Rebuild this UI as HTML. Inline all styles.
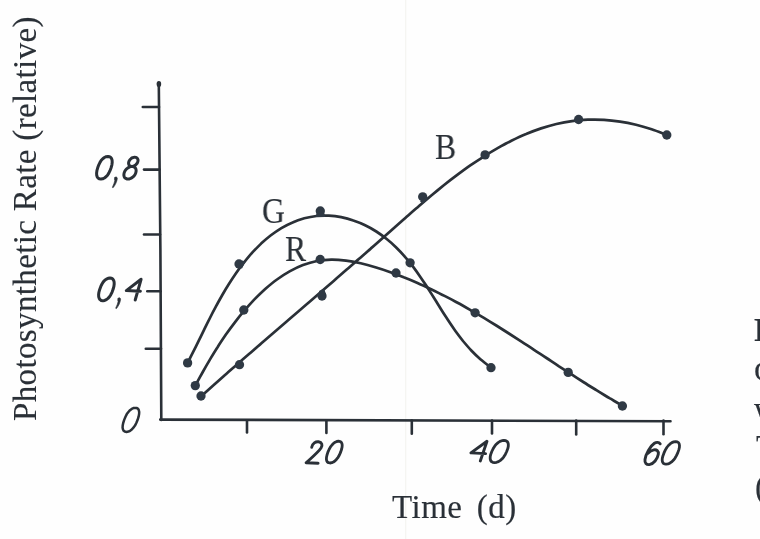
<!DOCTYPE html>
<html><head><meta charset="utf-8">
<style>
html,body{margin:0;padding:0;background:#fefefe;}
body{width:760px;height:539px;overflow:hidden;position:relative;font-family:"Liberation Serif",serif;color:#2a3037;-webkit-text-stroke:0.15px #2a3037;}
svg{position:absolute;left:0;top:0;filter:blur(0.3px);}
.t{position:absolute;white-space:nowrap;line-height:1;will-change:transform;}
#yl{left:0;top:0;font-size:33px;transform-origin:0 0;transform:translate(9px,421px) rotate(-90deg);letter-spacing:0.36px;}
#xl{left:392px;top:490.5px;font-size:33px;word-spacing:5.5px;letter-spacing:0.5px;}
.lab{font-size:36px;transform-origin:0 0;transform:scaleX(0.88);}
.frag{will-change:transform;position:absolute;left:754px;font-size:33px;white-space:nowrap;line-height:1;}
</style></head><body>
<svg width="760" height="539" viewBox="0 0 760 539">
<line x1="405.7" y1="0" x2="405.7" y2="539" stroke="#f4f4f1" stroke-width="1.2"/>
<g fill="none" stroke="#2a3037" stroke-width="2.6" stroke-linecap="round" stroke-linejoin="round">
<path d="M158.8,83.5 L160.4,250 L161.3,420"/>
<path d="M160.2,419.6 L670.5,421.2"/>
<path d="M142.8,107.0 L159.0,107.0"/>
<path d="M144.0,169.6 L159.5,169.6"/>
<path d="M144.0,234.5 L160.0,234.5"/>
<path d="M147.3,291.3 L160.5,291.3"/>
<path d="M145.8,348.8 L161.0,348.8"/>
<path d="M247.0,420.5 L247.0,432.5"/>
<path d="M326.4,420.5 L326.4,433.0"/>
<path d="M411.8,420.5 L411.8,433.8"/>
<path d="M492.0,420.5 L492.0,433.5"/>
<path d="M576.2,420.5 L576.2,434.5"/>
<path d="M663.5,420.5 L663.5,434.2"/>
<path d="M187.60,362.89 C188.5,361.0 191.4,355.5 193.3,351.7 C195.2,347.9 197.0,344.2 198.9,340.4 C200.8,336.6 202.6,332.8 204.5,328.9 C206.4,325.1 208.3,321.3 210.2,317.5 C212.1,313.7 214.1,309.9 216.1,306.2 C218.1,302.4 220.2,298.7 222.3,295.0 C224.4,291.3 226.6,287.6 228.9,284.0 C231.2,280.3 233.5,276.8 236.0,273.2 C238.4,269.7 241.0,266.2 243.7,262.9 C246.4,259.5 249.1,256.1 252.0,252.9 C255.0,249.7 258.0,246.6 261.1,243.6 C264.3,240.7 267.5,237.9 270.9,235.3 C274.3,232.7 277.8,230.3 281.4,228.1 C285.0,226.0 288.7,224.0 292.6,222.4 C296.4,220.7 300.3,219.4 304.3,218.3 C308.3,217.3 312.4,216.5 316.5,216.0 C320.6,215.6 324.7,215.5 328.9,215.7 C333.0,215.9 337.1,216.4 341.2,217.2 C345.3,218.0 349.4,219.1 353.3,220.5 C357.3,221.8 361.3,223.4 365.1,225.3 C368.9,227.1 372.7,229.2 376.3,231.5 C379.9,233.8 383.3,236.3 386.7,239.0 C390.0,241.6 393.2,244.5 396.2,247.5 C399.3,250.5 402.2,253.6 405.0,256.9 C407.9,260.1 410.6,263.5 413.2,266.9 C415.8,270.4 418.3,273.9 420.7,277.4 C423.2,281.0 425.5,284.6 427.9,288.2 C430.2,291.8 432.4,295.4 434.7,299.0 C437.0,302.6 439.2,306.3 441.5,309.9 C443.7,313.5 446.0,317.0 448.3,320.6 C450.6,324.1 453.0,327.6 455.4,331.0 C457.9,334.4 460.4,337.7 463.0,341.0 C465.7,344.2 468.4,347.4 471.3,350.5 C474.2,353.5 477.2,356.5 480.4,359.3 C483.7,362.1 488.9,366.0 490.6,367.3" stroke-width="2.7"/>
<path d="M195.30,385.60 C196.5,383.4 200.1,376.8 202.5,372.5 C204.9,368.1 207.4,363.8 209.9,359.6 C212.5,355.3 215.0,351.1 217.7,347.0 C220.3,342.8 223.1,338.7 225.9,334.6 C228.7,330.6 231.6,326.6 234.7,322.6 C237.7,318.6 240.8,314.7 244.1,310.9 C247.3,307.1 250.7,303.3 254.2,299.6 C257.8,296.0 261.4,292.4 265.2,289.0 C269.0,285.7 272.9,282.4 277.0,279.5 C281.1,276.5 285.3,273.8 289.6,271.4 C294.0,269.0 298.5,266.8 303.0,265.1 C307.6,263.4 312.2,262.0 317.0,261.0 C321.7,260.1 326.5,259.7 331.3,259.6 C336.2,259.5 341.1,260.0 346.0,260.6 C350.9,261.2 355.8,262.2 360.7,263.3 C365.6,264.4 370.5,265.8 375.3,267.3 C380.1,268.7 384.9,270.3 389.7,272.0 C394.4,273.7 399.1,275.4 403.7,277.3 C408.4,279.1 413.0,281.0 417.5,283.0 C422.1,285.0 426.6,287.1 431.1,289.2 C435.6,291.4 440.1,293.6 444.5,295.9 C448.9,298.1 453.3,300.5 457.6,302.8 C462.0,305.2 466.3,307.7 470.6,310.2 C475.0,312.6 479.2,315.2 483.5,317.7 C487.8,320.3 492.0,322.9 496.3,325.5 C500.5,328.2 504.7,330.8 508.9,333.5 C513.1,336.2 517.3,338.9 521.5,341.6 C525.7,344.3 529.8,347.1 534.0,349.8 C538.2,352.5 542.3,355.3 546.5,358.0 C550.7,360.8 554.9,363.5 559.0,366.3 C563.2,369.0 567.4,371.7 571.6,374.4 C575.7,377.2 579.9,379.9 584.1,382.5 C588.3,385.2 592.6,387.8 596.8,390.4 C601.0,393.1 605.3,395.6 609.5,398.2 C613.8,400.7 620.3,404.4 622.4,405.7" stroke-width="2.7"/>
<path d="M200.90,396.50 C202.9,394.7 208.9,389.3 212.9,385.7 C217.0,382.2 221.0,378.6 225.0,375.0 C229.1,371.5 233.1,367.9 237.1,364.4 C241.2,360.9 245.2,357.3 249.3,353.8 C253.3,350.3 257.4,346.8 261.4,343.2 C265.5,339.7 269.5,336.2 273.6,332.7 C277.7,329.2 281.7,325.7 285.8,322.2 C289.8,318.7 293.9,315.2 298.0,311.7 C302.0,308.2 306.1,304.7 310.2,301.2 C314.2,297.7 318.3,294.2 322.3,290.7 C326.4,287.2 330.5,283.7 334.5,280.2 C338.6,276.7 342.6,273.2 346.7,269.6 C350.7,266.1 354.8,262.6 358.8,259.0 C362.8,255.5 366.9,252.0 370.9,248.4 C375.0,244.9 379.0,241.3 383.0,237.7 C387.0,234.2 391.1,230.6 395.1,227.0 C399.1,223.4 403.1,219.9 407.2,216.3 C411.2,212.7 415.3,209.2 419.3,205.7 C423.4,202.2 427.5,198.7 431.6,195.2 C435.8,191.8 439.9,188.4 444.1,185.0 C448.3,181.7 452.6,178.4 456.9,175.2 C461.2,172.0 465.5,168.8 469.9,165.7 C474.3,162.7 478.8,159.7 483.4,156.8 C487.9,153.9 492.5,151.1 497.2,148.4 C501.9,145.8 506.6,143.2 511.4,140.8 C516.3,138.4 521.1,136.1 526.1,134.1 C531.0,132.0 536.0,130.1 541.1,128.4 C546.1,126.8 551.2,125.3 556.4,124.0 C561.5,122.8 566.8,121.8 572.0,121.1 C577.3,120.3 582.6,119.9 587.9,119.7 C593.2,119.5 598.6,119.5 604.0,119.9 C609.3,120.2 614.7,120.8 620.0,121.6 C625.4,122.4 630.7,123.5 636.0,124.8 C641.2,126.0 646.5,127.6 651.6,129.3 C656.8,131.0 664.3,134.1 666.8,135.0" stroke-width="2.7"/>
<path d="M111.10,167.75 L110.0,170.7 L108.8,173.1 L107.5,175.2 L106.0,176.8 L104.4,178.0 L102.7,178.8 L100.9,179.1 L99.2,178.8 L98.0,178.0 L97.2,176.8 L96.7,175.2 L96.6,173.1 L96.9,170.7 L97.7,167.8 L98.8,164.8 L100.0,162.4 L101.3,160.3 L102.8,158.7 L104.4,157.5 L106.1,156.7 L107.9,156.4 L109.6,156.7 L110.8,157.5 L111.6,158.7 L112.1,160.3 L112.2,162.4 L111.9,164.8 Z" stroke-width="3.00"/>
<path d="M113.10,289.35 L112.0,292.3 L110.8,294.7 L109.5,296.8 L108.0,298.4 L106.4,299.6 L104.7,300.4 L102.9,300.7 L101.2,300.4 L100.0,299.6 L99.2,298.4 L98.7,296.8 L98.6,294.7 L98.9,292.3 L99.7,289.4 L100.8,286.4 L102.0,284.0 L103.3,281.9 L104.8,280.3 L106.4,279.1 L108.1,278.3 L109.9,278.1 L111.6,278.3 L112.8,279.1 L113.6,280.3 L114.1,281.9 L114.2,284.0 L113.9,286.4 Z" stroke-width="3.00"/>
<path d="M137.64,419.85 L136.3,423.0 L135.0,425.6 L133.4,427.7 L131.8,429.5 L130.1,430.8 L128.4,431.6 L126.5,431.9 L124.9,431.6 L123.7,430.8 L123.0,429.5 L122.6,427.7 L122.7,425.6 L123.2,423.0 L124.2,419.9 L125.5,416.7 L126.8,414.1 L128.4,412.0 L130.0,410.2 L131.7,408.9 L133.4,408.1 L135.3,407.9 L136.9,408.1 L138.1,408.9 L138.8,410.2 L139.2,412.0 L139.1,414.1 L138.6,416.7 Z" stroke-width="2.50"/>
<path d="M340.65,452.10 L339.4,455.0 L338.1,457.3 L336.6,459.2 L335.1,460.8 L333.4,462.0 L331.8,462.7 L330.0,463.0 L328.5,462.7 L327.4,462.0 L326.7,460.8 L326.4,459.2 L326.5,457.3 L327.0,455.0 L327.9,452.1 L329.2,449.2 L330.5,446.9 L332.0,445.0 L333.5,443.4 L335.2,442.2 L336.8,441.5 L338.6,441.2 L340.1,441.5 L341.2,442.2 L341.9,443.4 L342.2,445.0 L342.1,446.9 L341.6,449.2 Z" stroke-width="2.80"/>
<path d="M506.70,451.50 L505.3,454.4 L503.8,456.8 L502.2,458.8 L500.4,460.4 L498.5,461.6 L496.6,462.3 L494.6,462.6 L492.7,462.3 L491.4,461.6 L490.6,460.4 L490.2,458.8 L490.2,456.8 L490.7,454.4 L491.8,451.5 L493.2,448.6 L494.7,446.2 L496.3,444.2 L498.1,442.6 L500.0,441.4 L501.9,440.7 L503.9,440.4 L505.8,440.7 L507.1,441.4 L507.9,442.6 L508.3,444.2 L508.3,446.2 L507.8,448.6 Z" stroke-width="2.80"/>
<path d="M677.75,452.90 L676.3,455.9 L674.9,458.3 L673.3,460.3 L671.6,461.9 L669.8,463.2 L668.0,463.9 L666.1,464.1 L664.4,463.9 L663.2,463.2 L662.5,461.9 L662.2,460.3 L662.3,458.3 L662.9,455.9 L664.0,452.9 L665.4,449.9 L666.8,447.5 L668.4,445.5 L670.1,443.9 L671.9,442.6 L673.7,441.9 L675.6,441.6 L677.3,441.9 L678.5,442.6 L679.2,443.9 L679.5,445.5 L679.4,447.5 L678.8,449.9 Z" stroke-width="2.80"/>
<path d="M137.80,161.80 L137.4,162.8 L136.7,163.8 L135.9,164.6 L135.0,165.4 L134.0,165.9 L132.9,166.2 L131.9,166.4 L130.9,166.2 L130.1,165.9 L129.4,165.4 L128.9,164.6 L128.6,163.8 L128.6,162.8 L128.8,161.8 L129.2,160.8 L129.9,159.8 L130.7,159.0 L131.6,158.2 L132.6,157.7 L133.7,157.4 L134.7,157.2 L135.7,157.4 L136.5,157.7 L137.2,158.2 L137.7,159.0 L138.0,159.8 L138.0,160.8 Z" stroke-width="3.00"/>
<path d="M135.80,172.75 L135.2,174.2 L134.4,175.5 L133.3,176.7 L132.1,177.7 L130.7,178.4 L129.4,178.9 L128.0,179.1 L126.8,178.9 L125.7,178.4 L124.8,177.7 L124.2,176.7 L123.9,175.5 L123.9,174.2 L124.2,172.8 L124.8,171.3 L125.6,170.0 L126.7,168.8 L127.9,167.8 L129.3,167.1 L130.6,166.6 L132.0,166.4 L133.2,166.6 L134.3,167.1 L135.2,167.8 L135.8,168.8 L136.1,170.0 L136.1,171.3 Z" stroke-width="3.00"/>
<path d="M114.9,177.4 C115.9,176.4 117.5,177.0 117.3,178.7 C116.9,181.7 115.3,185.1 113.3,187.5 C112.8,188.0 112.2,187.5 112.5,186.9 C113.6,184.7 114.5,182.3 114.8,180.5 C114.3,179.7 114.3,178.2 114.9,177.4 Z" fill="#2a3037" stroke-width="0.6"/>
<path d="M118.2,298.3 C119.2,297.3 120.8,297.9 120.6,299.6 C120.2,302.6 118.6,306.0 116.6,308.4 C116.1,308.9 115.5,308.4 115.8,307.8 C116.9,305.6 117.8,303.2 118.1,301.4 C117.6,300.6 117.6,299.1 118.2,298.3 Z" fill="#2a3037" stroke-width="0.6"/>
<path d="M135.2,300 L141.1,279.3 L126.3,290.6 L140.4,291.2" stroke-width="3.0"/>
<path d="M480.3,461 L487.0,441.3 L470.9,452.9 L485.6,453.6" stroke-width="2.9"/>
<path d="M311.7,447.3 C312.4,443.4 315.8,441.4 318.5,441.8 C322,442.3 322.9,445 321,448 C318,452.5 311,458.2 306.1,462.8 L318.1,463.2" stroke-width="2.9"/>
<path d="M660.2,443.8 C658.9,442.2 656.4,442.0 654.4,443.3 C650.2,446.2 645.7,454 645.0,459.5 C644.5,463 646.5,464.9 649.3,464.6 C653.5,464.1 657.6,458.8 658.3,454.3 C658.8,451 656.6,449.4 653.8,449.9 C651.6,450.3 649.6,451.6 648.0,453.2" stroke-width="2.9"/>
</g>
<g fill="#2f3944">
<circle cx="187.60" cy="362.90" r="4.65"/>
<circle cx="239.00" cy="264.00" r="4.65"/>
<circle cx="320.30" cy="211.00" r="4.65"/>
<circle cx="410.10" cy="262.80" r="4.65"/>
<circle cx="491.00" cy="367.70" r="4.65"/>
<circle cx="195.30" cy="385.60" r="4.65"/>
<circle cx="243.80" cy="310.00" r="4.65"/>
<circle cx="320.20" cy="259.50" r="4.65"/>
<circle cx="396.00" cy="273.00" r="4.65"/>
<circle cx="475.10" cy="312.80" r="4.65"/>
<circle cx="568.20" cy="372.40" r="4.65"/>
<circle cx="622.40" cy="406.00" r="4.65"/>
<circle cx="201.00" cy="396.00" r="4.65"/>
<circle cx="239.50" cy="364.70" r="4.65"/>
<circle cx="322.00" cy="296.00" r="4.65"/>
<circle cx="422.70" cy="196.80" r="4.65"/>
<circle cx="485.10" cy="154.90" r="4.65"/>
<circle cx="578.60" cy="119.50" r="4.65"/>
<circle cx="666.80" cy="135.00" r="4.65"/>
<ellipse cx="158.9" cy="84" rx="2.3" ry="3.1" fill="#2a3037"/>
<path d="M316.6,213 L324.2,213 L325.5,217 L315.5,217 Z"/>
<path d="M319,291 L324,288.5 L326,294 L320,297 Z"/>
<path d="M420,201.5 L426.5,196.5 L428,199.5 L422.5,203.5 Z"/>
<path d="M239,268 L242,260.5 L245.5,261.5 L242,268.5 Z"/>
</g>
</svg>
<div class="t" id="yl">Photosynthetic Rate (relative)</div>
<div class="t" id="xl">Time (d)</div>
<div class="t lab" style="left:262px;top:193px;">G</div>
<div class="t lab" style="left:284.6px;top:231px;">R</div>
<div class="t lab" style="left:434.5px;top:129px;">B</div>
<div class="frag" style="top:312.5px;font-weight:bold;font-size:34px;left:753.5px">Fig</div>
<div class="frag" style="top:350.5px;font-size:35px;left:753.5px">of</div>
<div class="frag" style="top:392.5px;">wi</div>
<div class="frag" style="top:430.5px;left:756px">Th</div>
<div class="frag" style="top:470.5px;left:755px">(R</div>
</body></html>
